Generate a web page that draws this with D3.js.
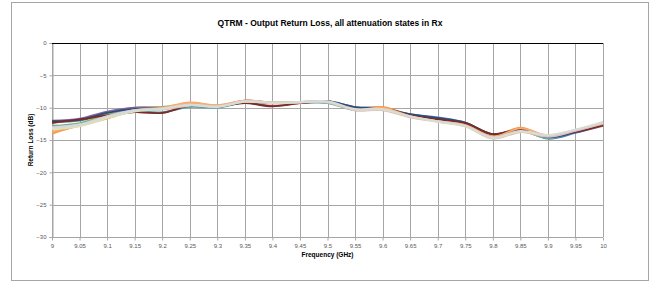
<!DOCTYPE html>
<html>
<head>
<meta charset="utf-8">
<script src="https://cdn.jsdelivr.net/npm/d3@7"></script>
<style>
  body { margin: 0; background: #fff; }
  svg { display: block; font-family: "Liberation Sans Narrow", "Liberation Sans", Arial, sans-serif; }
  .tick text { fill: #595959; font-size: 6px; }
  .axisTitle { font-weight: bold; font-size: 6.5px; fill: #000; }
</style>
</head>
<body>
<svg id="chart" width="654" height="282"></svg>
<script>
// frequencies in GHz, one sample every 50 MHz
var freqs = [9, 9.05, 9.1, 9.15, 9.2, 9.25, 9.3, 9.35, 9.4, 9.45, 9.5, 9.55, 9.6, 9.65, 9.7, 9.75, 9.8, 9.85, 9.9, 9.95, 10];
var yTicks = [0, -5, -10, -15, -20, -25, -30];

// return loss (dB) per attenuation state
var state1  = [-12.2,-12.0,-10.9,-10.3,-10.1,-9.7,-9.9,-9.1,-9.3,-9.2,-9.0,-9.9,-10.1,-11.0,-11.5,-12.3,-14.2,-13.5,-14.8,-13.9,-12.7];
var state2  = [-12.4,-11.8,-11.3,-10.7,-10.8,-9.6,-9.7,-9.2,-9.7,-9.3,-9.0,-10.1,-10.0,-11.1,-11.8,-12.4,-14.1,-13.3,-14.4,-13.8,-12.8];
var state3  = [-12.8,-12.4,-11.0,-10.0,-9.9,-9.4,-9.8,-9.0,-9.2,-9.1,-9.2,-10.3,-10.2,-11.3,-12.0,-12.6,-14.3,-13.6,-14.7,-13.7,-12.6];
var state4  = [-12.0,-11.7,-10.6,-10.0,-10.0,-9.6,-9.9,-8.9,-9.3,-9.2,-9.1,-10.2,-10.2,-11.2,-11.9,-12.5,-14.2,-13.4,-14.5,-13.6,-12.5];
var state5  = [-12.9,-12.5,-11.4,-10.6,-10.7,-9.9,-10.0,-9.2,-9.3,-9.3,-9.3,-10.4,-10.3,-11.4,-12.0,-12.7,-14.3,-13.5,-14.6,-13.7,-12.6];
var state6  = [-14.0,-12.7,-11.6,-10.5,-10.1,-9.3,-9.7,-8.9,-9.2,-9.1,-9.1,-10.3,-9.9,-11.2,-12.0,-12.5,-14.4,-13.1,-14.4,-13.5,-12.6];
var state7  = [-12.1,-11.9,-10.8,-10.2,-10.1,-9.7,-9.9,-9.1,-9.3,-9.2,-9.0,-9.9,-10.1,-11.0,-11.6,-12.3,-14.1,-13.4,-14.6,-13.8,-12.7];
var state8  = [-12.3,-11.8,-11.2,-10.7,-10.8,-9.7,-9.8,-9.3,-9.8,-9.3,-9.1,-10.2,-10.1,-11.2,-11.8,-12.4,-14.1,-13.4,-14.4,-13.7,-12.7];
var state9  = [-13.7,-12.8,-11.7,-10.4,-10.0,-9.2,-9.6,-8.9,-9.2,-9.1,-9.1,-10.3,-10.0,-11.3,-12.1,-12.7,-14.5,-13.2,-14.3,-13.5,-12.5];
var state10 = [-13.0,-12.6,-11.3,-10.4,-10.2,-9.6,-9.8,-9.0,-9.2,-9.1,-9.1,-10.3,-10.3,-11.4,-12.1,-12.8,-14.6,-13.7,-14.5,-13.6,-12.4];
var state11 = [-13.2,-12.7,-11.5,-10.5,-10.3,-9.7,-9.9,-9.1,-9.3,-9.2,-9.2,-10.4,-10.4,-11.5,-12.2,-12.9,-14.8,-13.8,-14.4,-13.5,-12.3];
var state12 = [-13.3,-12.9,-11.6,-10.6,-10.2,-9.6,-9.9,-9.1,-9.3,-9.2,-9.1,-10.3,-10.3,-11.4,-12.2,-12.9,-14.7,-13.7,-14.3,-13.4,-12.3];
var state13 = [-13.1,-12.6,-11.4,-10.4,-10.1,-9.5,-9.8,-9.0,-9.2,-9.1,-9.0,-10.2,-10.2,-11.3,-12.1,-12.8,-14.6,-13.6,-14.2,-13.4,-12.2];

var states = [state1, state2, state3, state4, state5, state6, state7, state8, state9, state10, state11, state12, state13];
var colors = ["#4F81BD", "#C0504D", "#9BBB59", "#8064A2", "#4BACC6", "#F79646", "#2C4D75", "#772C2A",
              "#F9AB6B", "#CCC1DA", "#E6B9B8", "#D7E4BD", "#D9D9D9"];

var svg = d3.select("#chart");
var plotLeft = 52, plotRight = 603, plotTop = 43, plotBottom = 237;

// chart border
svg.append("rect")
   .attr("x", 11.5).attr("y", 2.5)
   .attr("width", 637).attr("height", 278)
   .attr("fill", "#fff").attr("stroke", "#a6a6a6");

var x = d3.scaleLinear().domain([9, 10]).range([plotLeft, plotRight]);
var y = d3.scaleLinear().domain([-30, 0]).range([plotBottom, plotTop]);

// gridlines
svg.append("g")
   .selectAll("line")
   .data(freqs)
   .enter().append("line")
   .attr("x1", function(d) { return Math.round(x(d)) + 0.5; })
   .attr("x2", function(d) { return Math.round(x(d)) + 0.5; })
   .attr("y1", plotTop).attr("y2", plotBottom)
   .attr("stroke", "#a6a6a6");

svg.append("g")
   .selectAll("line")
   .data(yTicks)
   .enter().append("line")
   .attr("x1", plotLeft).attr("x2", plotRight)
   .attr("y1", function(d) { return Math.round(y(d)) + 0.5; })
   .attr("y2", function(d) { return Math.round(y(d)) + 0.5; })
   .attr("stroke", "#a6a6a6");

// x axis: labels low, but the axis line itself sits at 0 dB
var xAxis = svg.append("g")
   .attr("transform", "translate(0," + (Math.round(y(-30)) + 0.5) + ")")
   .call(d3.axisBottom(x).tickValues(freqs).tickSize(3).tickPadding(3)
           .tickFormat(function(d) { return String(+d.toFixed(2)); }));
xAxis.select(".domain").remove();
xAxis.selectAll(".tick line").attr("stroke", "#a6a6a6");

var yAxis = svg.append("g")
   .attr("transform", "translate(" + (plotLeft + 0.5) + ",0)")
   .call(d3.axisLeft(y).tickValues(yTicks).tickSize(3).tickPadding(3));
yAxis.select(".domain").attr("stroke", "#a6a6a6");
yAxis.selectAll(".tick line").attr("stroke", "#a6a6a6");

svg.append("line")
   .attr("x1", plotLeft).attr("x2", plotRight)
   .attr("y1", Math.round(y(0)) + 0.5).attr("y2", Math.round(y(0)) + 0.5)
   .attr("stroke", "#000").attr("stroke-width", 1.2);

// curves
var line = d3.line()
   .x(function(d, i) { return x(freqs[i]); })
   .y(function(d) { return y(d); })
   .curve(d3.curveCatmullRom.alpha(0.5));

svg.append("g")
   .selectAll("path")
   .data(states)
   .enter().append("path")
   .attr("d", line)
   .attr("fill", "none")
   .attr("stroke", function(d, i) { return colors[i]; })
   .attr("stroke-width", 1.8);

// titles
svg.append("text")
   .attr("x", 330).attr("y", 26)
   .attr("text-anchor", "middle")
   .attr("font-weight", "bold").attr("font-size", "8.5px")
   .text("QTRM - Output Return Loss, all attenuation states in Rx");

svg.append("text")
   .attr("class", "axisTitle")
   .attr("x", (plotLeft + plotRight) / 2).attr("y", 257)
   .attr("text-anchor", "middle")
   .text("Frequency (GHz)");

svg.append("text")
   .attr("class", "axisTitle")
   .attr("transform", "translate(33," + ((plotTop + plotBottom) / 2) + ") rotate(-90)")
   .attr("text-anchor", "middle")
   .text("Return Loss (dB)");
</script>
</body>
</html>
